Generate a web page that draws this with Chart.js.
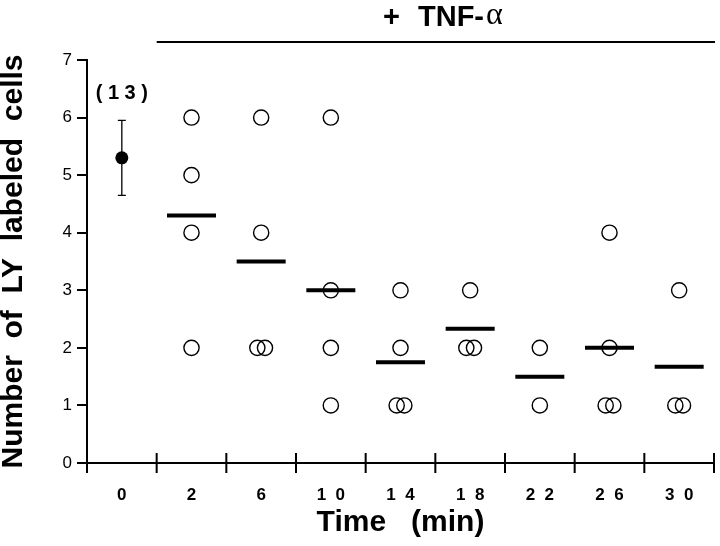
<!DOCTYPE html>
<html>
<head>
<meta charset="utf-8">
<script src="https://cdn.jsdelivr.net/npm/chart.js@4.4.1/dist/chart.umd.min.js"></script>
<style>
  html, body { margin: 0; padding: 0; background: #fff; }
  #wrap { width: 720px; height: 546px; }
</style>
</head>
<body>
<div id="wrap"><canvas id="c" width="720" height="546"></canvas></div>
<script>
// time points (min)
const times = ["0", "2", "6", "10", "14", "18", "22", "26", "30"];

// control (t = 0): mean +- error, n
const controlMean = 5.3;
const controlLow = 4.65;
const controlHigh = 5.95;
const controlN = 13;

// individual experiments after TNF-alpha, one list per time point
const cellsAt2 = [6, 5, 4, 2];
const cellsAt6 = [6, 4, 2, 2];
const cellsAt10 = [6, 3, 2, 1];
const cellsAt14 = [3, 2, 1, 1];
const cellsAt18 = [3, 2, 2];
const cellsAt22 = [2, 1];
const cellsAt26 = [4, 2, 1, 1];
const cellsAt30 = [3, 1, 1];

// mean bars
const means = [null, 4.3, 3.5, 3.0, 1.75, 2.33, 1.5, 2.0, 1.67];

const yTicks = [0, 1, 2, 3, 4, 5, 6, 7];

const cellLists = [null, cellsAt2, cellsAt6, cellsAt10, cellsAt14, cellsAt18, cellsAt22, cellsAt26, cellsAt30];

// open circles, same values side by side
const cellPoints = [];
cellLists.forEach((list, i) => {
    if (!list) return;
    const seen = {};
    list.forEach(v => {
        const n = list.filter(w => w === v).length;
        let dx = 0;
        if (n > 1) {
            seen[v] = (seen[v] || 0) + 1;
            dx = seen[v] === 1 ? -0.055 : 0.055;
        }
        cellPoints.push({ x: i + dx, y: v });
    });
});

const meanPoints = means
    .map((m, i) => (m === null ? null : { x: i, y: m }))
    .filter(p => p);

const FONT = "'Liberation Sans', Arial, Helvetica, sans-serif";

// error bar, (n) label, boundary ticks on x and the TNF bar on top
const extras = {
    id: "extras",
    afterDraw(chart) {
        const { ctx, scales: { x, y } } = chart;
        ctx.save();
        ctx.strokeStyle = "#000";
        ctx.fillStyle = "#000";

        // error bar for control
        const cx = x.getPixelForValue(0);
        const yHi = y.getPixelForValue(controlHigh);
        const yLo = y.getPixelForValue(controlLow);
        ctx.lineWidth = 1.3;
        ctx.beginPath();
        ctx.moveTo(cx, yHi); ctx.lineTo(cx, yLo);
        ctx.moveTo(cx - 4, yHi); ctx.lineTo(cx + 4, yHi);
        ctx.moveTo(cx - 4, yLo); ctx.lineTo(cx + 4, yLo);
        ctx.stroke();

        ctx.font = "bold 20px " + FONT;
        ctx.textAlign = "center";
        ctx.textBaseline = "middle";
        ctx.fillText("( " + String(controlN).split("").join(" ") + " )", cx, yHi - 27);

        // category boundary ticks crossing the x axis
        const y0 = y.getPixelForValue(0);
        ctx.lineWidth = 2;
        ctx.beginPath();
        for (let i = 0; i <= times.length; i++) {
            const px = x.getPixelForValue(i - 0.5);
            ctx.moveTo(px, y0 - 10);
            ctx.lineTo(px, y0 + 10);
        }
        ctx.stroke();

        // "+ TNF-alpha" bar over the treated time points
        const xa = x.getPixelForValue(0.5);
        const xb = x.getPixelForValue(times.length - 0.5);
        ctx.lineWidth = 2;
        ctx.beginPath();
        ctx.moveTo(xa, 42); ctx.lineTo(xb + 1, 42);
        ctx.stroke();

        ctx.textAlign = "left";
        ctx.textBaseline = "alphabetic";
        ctx.font = "bold 29px " + FONT;
        ctx.fillText("+", 383, 26);
        ctx.fillText("TNF-", 418, 26);
        const w = ctx.measureText("TNF-").width;
        ctx.font = "32px 'Liberation Serif', serif";
        ctx.fillText("\u03b1", 418 + w + 2, 24);
        ctx.restore();
    }
};

new Chart(document.getElementById("c"), {
    type: "scatter",
    data: {
        datasets: [
            {
                label: "mean bars",
                data: meanPoints,
                pointStyle: "line",
                pointRadius: 24.5,
                borderWidth: 4,
                borderColor: "#000",
                order: 0
            },
            {
                label: "control",
                data: [{ x: 0, y: controlMean }],
                pointRadius: 6.5,
                borderWidth: 0,
                backgroundColor: "#000",
                borderColor: "#000",
                order: 1
            },
            {
                label: "experiments",
                data: cellPoints,
                pointRadius: 7.6,
                borderWidth: 1.4,
                backgroundColor: "rgba(0,0,0,0)",
                borderColor: "#000",
                order: 2
            }
        ]
    },
    options: {
        responsive: false,
        animation: false,
        devicePixelRatio: 1,
        // the wide mean-bar markers would otherwise push the plot in
        layout: { autoPadding: false, padding: { top: 60, right: 6, left: 0, bottom: 0 } },
        plugins: {
            legend: { display: false },
            tooltip: { enabled: false }
        },
        scales: {
            x: {
                type: "linear",
                min: -0.5,
                max: times.length - 0.5,
                afterBuildTicks: s => { s.ticks = times.map((t, i) => ({ value: i })); },
                afterFit: s => { s.height = 83; s.paddingLeft = 0; s.paddingRight = 0; },
                grid: { display: false },
                border: { display: true, color: "#000", width: 2 },
                ticks: {
                    color: "#000",
                    padding: 14,
                    maxRotation: 0,
                    autoSkip: false,
                    font: { family: FONT, size: 17, weight: "bold" },
                    callback: v => times[v].split("").join("  ")
                },
                title: {
                    display: true,
                    text: "Time   (min)",
                    color: "#000",
                    padding: { top: 0, bottom: 5 },
                    font: { family: FONT, size: 30, weight: "bold" }
                }
            },
            y: {
                min: 0,
                max: 7,
                afterBuildTicks: s => { s.ticks = yTicks.map(v => ({ value: v })); },
                afterFit: s => { s.width = 87; },
                grid: {
                    display: true,
                    drawOnChartArea: false,
                    drawTicks: true,
                    tickLength: 10,
                    lineWidth: 2,
                    color: "#000"
                },
                border: { display: true, color: "#000", width: 2 },
                ticks: {
                    color: "#000",
                    padding: 5,
                    font: { family: FONT, size: 17 }
                },
                title: {
                    display: true,
                    text: "Number  of  LY  labeled  cells",
                    color: "#000",
                    padding: { top: -4, bottom: 0 },
                    font: { family: FONT, size: 30, weight: "bold" }
                }
            }
        }
    },
    plugins: [extras]
});
</script>
</body>
</html>
